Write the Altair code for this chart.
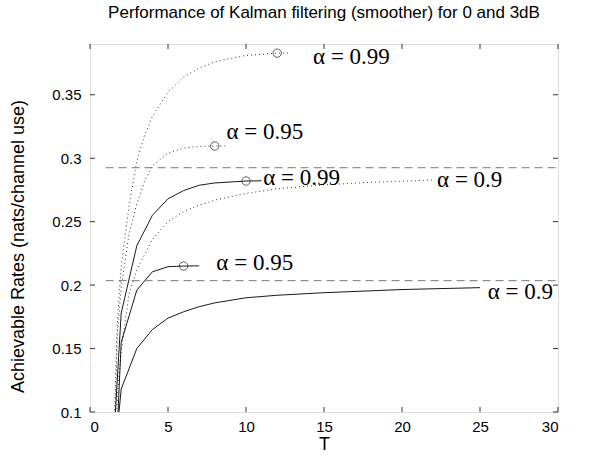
import altair as alt
import pandas as pd

# Achievable rate curves, solid family
solid_09_T = [1.5, 2, 3, 4, 5, 6, 7, 8, 10, 12, 15, 20, 25]
solid_09_R = [0.054, 0.118, 0.150, 0.165, 0.174, 0.179, 0.183, 0.186, 0.190, 0.192, 0.194, 0.1965, 0.198]

solid_095_T = [1.5, 2, 3, 4, 5, 6, 7]
solid_095_R = [0.018, 0.155, 0.196, 0.2105, 0.2145, 0.215, 0.2152]

solid_099_T = [1.5, 2, 3, 4, 5, 6, 7, 8, 10, 11]
solid_099_R = [0.073, 0.178, 0.231, 0.255, 0.268, 0.2745, 0.2787, 0.2805, 0.282, 0.2822]

# Achievable rate curves, dotted family
dot_09_T = [1.5, 1.75, 2, 2.5, 3, 4, 5, 6, 7, 8, 10, 12, 15, 18, 22]
dot_09_R = [0.03, 0.112, 0.148, 0.193, 0.212, 0.236, 0.250, 0.258, 0.263, 0.267, 0.2722, 0.276, 0.279, 0.281, 0.2828]

dot_095_T = [1.5, 1.75, 2, 2.5, 3, 3.5, 4, 5, 6, 7, 8, 8.8]
dot_095_R = [0.05, 0.16, 0.198, 0.240, 0.264, 0.282, 0.294, 0.304, 0.308, 0.3093, 0.3096, 0.3097]

dot_099_T = [1.5, 1.75, 2, 2.5, 3, 3.5, 4, 5, 6, 7, 8, 10, 12, 12.7]
dot_099_R = [0.07, 0.17, 0.215, 0.262, 0.298, 0.318, 0.333, 0.352, 0.364, 0.371, 0.376, 0.381, 0.3828, 0.383]

# Optimal block lengths (circled)
opt_T = [6, 10, 8, 12]
opt_R = [0.215, 0.282, 0.3096, 0.3828]

# Capacity bounds (dashed)
bound_R = [0.2035, 0.2925]
bound_T0 = 1
bound_T1 = 30

# Curve annotations
label_text = ["α = 0.9", "α = 0.95", "α = 0.99", "α = 0.9", "α = 0.95", "α = 0.99"]
label_T = [25.5, 8.1, 11.1, 22.25, 8.75, 14.3]
label_R = [0.1948, 0.2172, 0.2842, 0.2828, 0.3209, 0.3797]

# Axis ticks
x_ticks = [0, 5, 10, 15, 20, 25, 30]
y_ticks = [0.1, 0.15, 0.2, 0.25, 0.3, 0.35]

W, H = 468, 368
FRAME = "#333333"


def frame(T, R, name):
    return pd.DataFrame({"T": T, "rate": R, "series": name})


solid_df = pd.concat([
    frame(solid_09_T, solid_09_R, "s09"),
    frame(solid_095_T, solid_095_R, "s095"),
    frame(solid_099_T, solid_099_R, "s099"),
])
dot_df = pd.concat([
    frame(dot_09_T, dot_09_R, "d09"),
    frame(dot_095_T, dot_095_R, "d095"),
    frame(dot_099_T, dot_099_R, "d099"),
])
opt_df = pd.DataFrame({"T": opt_T, "rate": opt_R})
bound_df = pd.DataFrame({"T": [bound_T0] * 2, "T2": [bound_T1] * 2, "rate": bound_R})
label_df = pd.DataFrame({"T": label_T, "rate": label_R, "text": label_text})
xt_df = pd.DataFrame({"T": x_ticks})
yt_df = pd.DataFrame({"rate": y_ticks})

xscale = alt.Scale(domain=[0, 30], nice=False, zero=False)
yscale = alt.Scale(domain=[0.1, 0.39], nice=False, zero=False)

x_axis = alt.Axis(values=x_ticks, title="T", ticks=False, domain=False, grid=False,
                  labelFont="Liberation Sans", labelFontSize=15, labelColor="black",
                  labelPadding=7, titleFont="Liberation Sans", titleFontSize=18,
                  titleFontWeight="normal", titleColor="black", titlePadding=1)
y_axis = alt.Axis(values=y_ticks, format=".2~f", title="Achievable Rates (nats/channel use)",
                  ticks=False, domain=False, grid=False,
                  labelFont="Liberation Sans", labelFontSize=15, labelColor="black",
                  labelPadding=9, titleFont="Liberation Sans", titleFontSize=18,
                  titleFontWeight="normal", titleColor="black",
                  titleX=-72, titleY=202, titleBaseline="middle", titleAlign="center",
                  titleAngle=270)

X = alt.X("T:Q", scale=xscale, axis=x_axis)
Y = alt.Y("rate:Q", scale=yscale, axis=y_axis)

solid = alt.Chart(solid_df).mark_line(color="black", strokeWidth=0.9, clip=True).encode(
    x=X, y=Y, detail="series:N", order="T:Q",
)

dotted = alt.Chart(dot_df).mark_line(color="black", strokeWidth=1, strokeDash=[1, 3],
                                     opacity=0.8, clip=True).encode(
    x=X, y=Y, detail="series:N", order="T:Q",
)

bounds = alt.Chart(bound_df).mark_rule(color="#777777", strokeWidth=1, strokeDash=[8, 5]).encode(
    x=X, x2="T2:Q", y=Y,
)

optima = alt.Chart(opt_df).mark_point(shape="circle", size=70, color="black",
                                      strokeWidth=0.9, filled=False).encode(
    x=X, y=Y,
)

labels = alt.Chart(label_df).mark_text(font="Liberation Serif", fontSize=23, align="left",
                                       baseline="middle", color="black").encode(
    x=X, y=Y, text="text:N",
)

# Inward tick marks on all four sides of the frame
tick_style = dict(color=FRAME, strokeWidth=1)
ticks_left = alt.Chart(yt_df).mark_rule(**tick_style).encode(
    y=Y, x=alt.value(0), x2=alt.value(5))
ticks_right = alt.Chart(yt_df).mark_rule(**tick_style).encode(
    y=Y, x=alt.value(W - 5), x2=alt.value(W))
ticks_bottom = alt.Chart(xt_df).mark_rule(**tick_style).encode(
    x=X, y=alt.value(H - 5), y2=alt.value(H))
ticks_top = alt.Chart(xt_df).mark_rule(**tick_style).encode(
    x=X, y=alt.value(0), y2=alt.value(5))

chart = alt.layer(
    solid, dotted, bounds, optima, labels,
    ticks_left, ticks_right, ticks_bottom, ticks_top,
).properties(
    width=W,
    height=H,
    title=alt.TitleParams(
        "Performance of Kalman filtering (smoother) for 0 and 3dB",
        font="Liberation Sans", fontSize=17, fontWeight="normal", color="black",
        anchor="middle", offset=22,
    ),
    autosize=alt.AutoSizeParams(type="none"),
    padding={"left": 90, "top": 44, "right": 43, "bottom": 58},
).configure_view(
    stroke=FRAME, strokeWidth=1,
).configure(background="white")

chart.save("out.html", embed_options={"renderer": "svg", "actions": False})
